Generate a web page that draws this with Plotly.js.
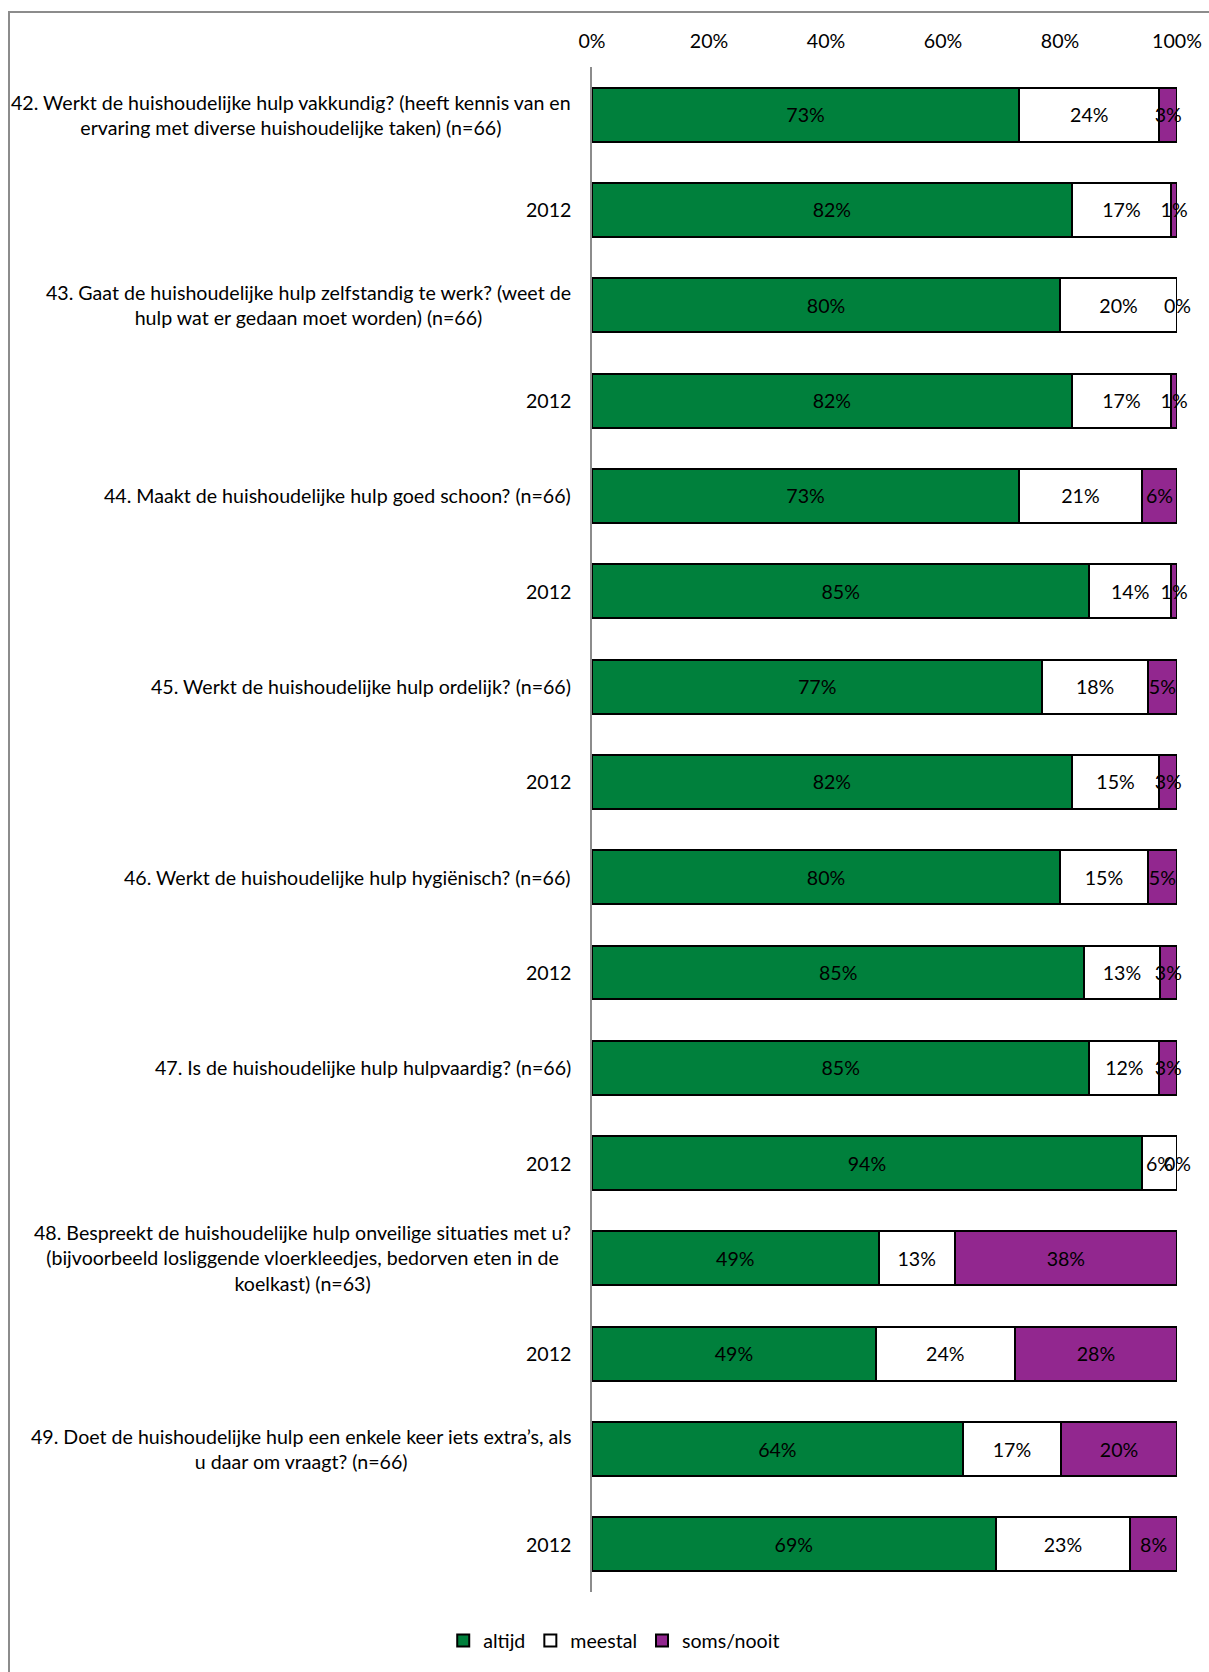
<!DOCTYPE html>
<html>
<head>
<meta charset="utf-8">
<script src="https://cdn.plot.ly/plotly-3.0.1.min.js"></script>
<style>
  html, body { margin: 0; padding: 0; background: #fff; }
  #chart { width: 1209px; height: 1672px; }
  #frame { position: absolute; left: 8px; top: 11px; right: 0; bottom: 0;
           border-left: 2px solid #8c8c8c; border-top: 2px solid #8c8c8c; pointer-events: none; }
</style>
</head>
<body>
<div id="chart"></div>
<div id="frame"></div>
<script>
const categories = [
  "42. Werkt de huishoudelijke hulp vakkundig? (heeft kennis van en<br>ervaring met diverse huishoudelijke taken) (n=66)",
  "2012",
  "43. Gaat de huishoudelijke hulp zelfstandig te werk? (weet de<br>hulp wat er gedaan moet worden) (n=66)",
  "2012",
  "44. Maakt de huishoudelijke hulp goed schoon? (n=66)",
  "2012",
  "45. Werkt de huishoudelijke hulp ordelijk? (n=66)",
  "2012",
  "46. Werkt de huishoudelijke hulp hygiënisch? (n=66)",
  "2012",
  "47. Is de huishoudelijke hulp hulpvaardig? (n=66)",
  "2012",
  "48. Bespreekt de huishoudelijke hulp onveilige situaties met u?<br>(bijvoorbeeld losliggende vloerkleedjes, bedorven eten in de<br>koelkast) (n=63)",
  "2012",
  "49. Doet de huishoudelijke hulp een enkele keer iets extra’s, als<br>u daar om vraagt? (n=66)",
  "2012"
];
const altijd    = [73, 82, 80, 82, 73, 85, 77, 82, 80, 85, 85, 94, 49, 49, 64, 69];
const meestal   = [24, 17, 20, 17, 21, 14, 18, 15, 15, 13, 12,  6, 13, 24, 17, 23];
const somsNooit = [ 3,  1,  0,  1,  6,  1,  5,  3,  5,  3,  3,  0, 38, 28, 20,  8];
const seriesNames = ["altijd", "meestal", "soms/nooit"];
const tickVals = [0, 20, 40, 60, 80, 100];
const tickText = ["0%", "20%", "40%", "60%", "80%", "100%"];

const FONT = "Lato, 'Open Sans', sans-serif";
const FS = 19.6;
const colors = ["#00803c", "#ffffff", "#92278f"];
const series = [altijd, meestal, somsNooit];
const yIdx = categories.map((c, i) => i);

const traces = series.map((vals, k) => ({
  type: "bar",
  orientation: "h",
  name: seriesNames[k],
  x: vals,
  y: yIdx,
  text: vals.map(v => v + "%"),
  textposition: "inside",
  insidetextanchor: "middle",
  textangle: 0,
  constraintext: "none",
  cliponaxis: false,
  textfont: { family: FONT, size: FS, color: "#000" },
  marker: { color: colors[k], line: { color: "#000", width: 2 } },
  hoverinfo: "skip"
}));

const annotations = [];
categories.forEach((c, i) => {
  annotations.push({
    xref: "paper", yref: "y", x: 0, y: i, xanchor: "right", yanchor: "middle",
    xshift: -19, align: "center", showarrow: false, text: c,
    font: { family: FONT, size: FS, color: "#000" }
  });
});
// labels for zero-width segments (plotly drops text on empty bars)
const totals = categories.map((c, i) => altijd[i] + meestal[i] + somsNooit[i]);
series.forEach((vals, k) => {
  vals.forEach((v, i) => {
    if (v === 0) {
      let cum = 0;
      for (let j = 0; j <= k; j++) cum += series[j][i];
      annotations.push({
        xref: "x", yref: "y", x: cum / totals[i] * 100, y: i, showarrow: false,
        text: v + "%", xanchor: "center", yanchor: "middle",
        font: { family: FONT, size: FS, color: "#000" }
      });
    }
  });
});

const layout = {
  width: 1209, height: 1672,
  margin: { l: 592, r: 32, t: 67, b: 78 },
  paper_bgcolor: "#fff", plot_bgcolor: "#fff",
  barmode: "stack", barnorm: "percent", bargap: 0.434,
  font: { family: FONT, size: FS, color: "#000" },
  xaxis: {
    side: "top", range: [0, 100], tickvals: tickVals, ticktext: tickText,
    showgrid: false, zeroline: false, showline: false, ticks: "",
    ticklabelstandoff: 14, fixedrange: true,
    tickfont: { family: FONT, size: FS, color: "#000" }
  },
  yaxis: {
    range: [categories.length - 0.5, -0.5], tickvals: [], showticklabels: false,
    showgrid: false, zeroline: false, showline: true, linecolor: "#8c8c8c", linewidth: 2,
    fixedrange: true
  },
  showlegend: true,
  legend: {
    orientation: "h", x: 0.038, xanchor: "center", y: -0.032, yanchor: "middle",
    font: { family: FONT, size: FS, color: "#000" }, traceorder: "normal",
    itemwidth: 30, tracegroupgap: 0
  },
  annotations: annotations
};

Plotly.newPlot("chart", traces, layout, { displayModeBar: false, staticPlot: true });
</script>
</body>
</html>
